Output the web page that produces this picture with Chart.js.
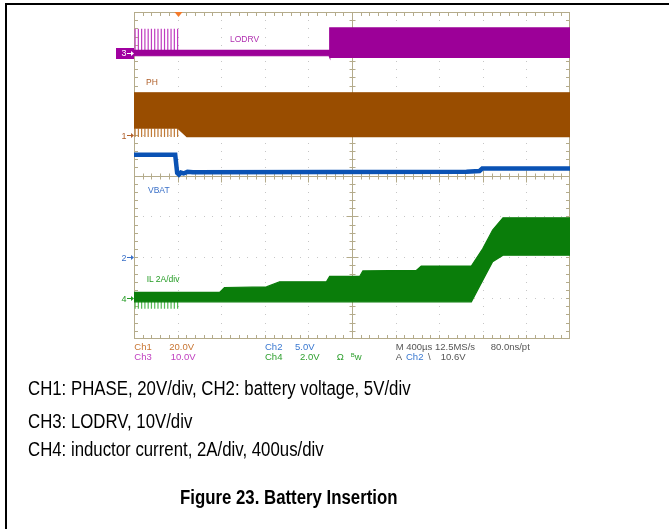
<!DOCTYPE html>
<html>
<head>
<meta charset="utf-8">
<script src="https://cdn.jsdelivr.net/npm/chart.js@4.4.1/dist/chart.umd.min.js"></script>
<style>
  body { margin: 0; background: #fff; }
  #wrap { position: relative; width: 669px; height: 529px; overflow: hidden; font-family: "Liberation Sans", Arial, sans-serif; }
  #frame { position: absolute; left: 5px; top: 3px; width: 700px; height: 600px; border-top: 2px solid #000; border-left: 2px solid #000; }
  canvas { position: absolute; left: 0; top: 0; }
  .t { position: absolute; white-space: nowrap; line-height: 1; }
  .s { font-size: 9.5px; }
  .lab { font-size: 8.5px; }
  .cap { font-size: 20px; color: #000; transform: scaleX(0.84); transform-origin: 0 0; }
</style>
</head>
<body>
<div id="wrap">
  <div id="frame"></div>
  <canvas id="scope" width="669" height="529"></canvas>

  <!-- trace labels -->
  <div class="t lab" style="left:230px;top:34.6px;color:#b030b0">LODRV</div>
  <div class="t lab" style="left:146px;top:78px;color:#b0602a">PH</div>
  <div class="t lab" style="left:148px;top:185.6px;color:#3a70c8">VBAT</div>
  <div class="t lab" style="left:146.7px;top:275px;color:#229a22">IL 2A/div</div>

  <!-- channel reference numbers -->
  <div class="t" style="left:121.5px;top:49px;font-size:9px;color:#fff">3</div>
  <div class="t" style="left:121.5px;top:131.5px;font-size:9px;color:#b0602a">1</div>
  <div class="t" style="left:121.5px;top:253.8px;font-size:9px;color:#3a70c8">2</div>
  <div class="t" style="left:121.5px;top:294.8px;font-size:9px;color:#229a22">4</div>

  <!-- scope status lines -->
  <div class="t s" style="left:134.3px;top:342.3px;color:#c87533">Ch1</div>
  <div class="t s" style="left:169.3px;top:342.3px;color:#c87533">20.0V</div>
  <div class="t s" style="left:134.3px;top:352.3px;color:#c040c0">Ch3</div>
  <div class="t s" style="left:170.7px;top:352.3px;color:#c040c0">10.0V</div>
  <div class="t s" style="left:265px;top:342.3px;color:#3a78d0">Ch2</div>
  <div class="t s" style="left:295px;top:342.3px;color:#3a78d0">5.0V</div>
  <div class="t s" style="left:265px;top:352.3px;color:#30a030">Ch4</div>
  <div class="t s" style="left:300px;top:352.3px;color:#30a030">2.0V</div>
  <div class="t s" style="left:336.7px;top:352.3px;color:#30a030">Ω</div>
  <div class="t s" style="left:350.7px;top:352.3px;color:#30a030"><span style="font-size:6px;vertical-align:3px">B</span>w</div>
  <div class="t s" style="left:395.7px;top:342.3px;color:#555">M 400µs 12.5MS/s</div>
  <div class="t s" style="left:490.7px;top:342.3px;color:#555">80.0ns/pt</div>
  <div class="t s" style="left:395.7px;top:352.3px;color:#555">A</div>
  <div class="t s" style="left:406px;top:352.3px;color:#3a78d0">Ch2</div>
  <div class="t s" style="left:428px;top:352.3px;color:#555">\</div>
  <div class="t s" style="left:440.7px;top:352.3px;color:#555">10.6V</div>

  <!-- caption -->
  <div class="t cap" style="left:28px;top:378.4px">CH1: PHASE, 20V/div, CH2: battery voltage, 5V/div</div>
  <div class="t cap" style="left:28px;top:410.7px">CH3: LODRV, 10V/div</div>
  <div class="t cap" style="left:28px;top:439px">CH4: inductor current, 2A/div, 400us/div</div>
  <div class="t cap" style="left:180px;top:487.4px;font-weight:bold">Figure 23. Battery Insertion</div>
</div>

<script>
// time axis, µs relative to the trigger (400 µs/div, 10 div)
const timeStart = -400;
const timeEnd = 3600;
const usPerDiv = 400;

// channel settings: scale per division and ground-reference position (divisions from centre)
const channels = ['CH1', 'CH2', 'CH3', 'CH4'];
const unitsPerDiv = [20, 5, 10, 2];
const refDiv = [1, -2, 3, -3];
const traceColors = ['#994d00', '#0a52b4', '#9c0098', '#0a7d0a'];
const pulseColors = ['#c07a36', '#0a52b4', '#c03cc0', '#52b852'];

// CH3 LODRV (V): envelope of the switching band
const lodrvTime = [-400, 1390, 1396, 3600];
const lodrvHigh = [0.6, 0.6, 6.1, 6.1];
const lodrvLow = [-0.7, -0.7, -1.1, -1.1];

// short bursts before the battery is inserted (µs)
const pulseTimes = [-390, -360, -330, -300, -270, -240, -210, -180, -150, -120, -90, -60, -30, 0];
const lodrvPulseTop = 5.9;

// CH1 PH (V)
const phTime = [-400, 0, 85, 3600];
const phHigh = [20.5, 20.5, 20.5, 20.5];
const phLow = [3.2, 3.2, -1.0, -1.0];
const phPulseBottom = -1.2;

// CH2 VBAT (V)
const vbatTime = [-400, -22, -4, 12, 30, 55, 90, 140, 2650, 2770, 2795, 3600];
const vbatValue = [12.55, 12.55, 10.3, 10.1, 10.35, 10.25, 10.45, 10.4, 10.45, 10.55, 10.85, 10.85];

// CH4 IL (A)
const ilTime = [-400, 385, 430, 815, 935, 1365, 1395, 1670, 1700, 2190, 2235, 2695, 2800, 2890, 2985, 3600];
const ilHigh = [0.28, 0.28, 0.52, 0.55, 0.8, 0.8, 1.06, 1.06, 1.33, 1.36, 1.57, 1.57, 2.43, 3.33, 3.93, 3.93];
const ilLow = [-0.18, -0.18, -0.18, -0.18, -0.18, -0.18, -0.18, -0.18, -0.18, -0.18, -0.18, -0.18, 0.88, 1.78, 2.1, 2.1];
const ilPulseBottom = -0.52;

const pts = (xs, ys) => xs.map((x, i) => ({ x: x, y: ys[i] }));
const pulses = (times, lo, hi) => {
  const out = [];
  times.forEach(t => out.push({ x: t, y: lo }, { x: t, y: hi }, { x: t, y: null }));
  return out;
};

const line = (label, data, ch, extra) => Object.assign({
  label: label,
  data: data,
  yAxisID: 'y' + (ch + 1),
  borderColor: traceColors[ch],
  backgroundColor: traceColors[ch],
  borderWidth: 1.2,
  pointRadius: 0,
  tension: 0,
  fill: false,
  spanGaps: false
}, extra || {});

const scales = {
  x: { type: 'linear', display: false, min: timeStart, max: timeEnd },
  ydiv: { type: 'linear', display: false, min: -4, max: 4 }
};
channels.forEach((c, i) => {
  scales['y' + (i + 1)] = {
    type: 'linear', display: false,
    min: (-4 - refDiv[i]) * unitsPerDiv[i],
    max: (4 - refDiv[i]) * unitsPerDiv[i]
  };
});

const TAN = '#b4ab8b';

const reticle = {
  id: 'reticle',
  beforeDatasetsDraw(chart) {
    const { ctx, chartArea: a } = chart;
    const xs = chart.scales.x, ys = chart.scales.ydiv;
    const px = v => Math.round(xs.getPixelForValue(v));
    const py = d => Math.round(ys.getPixelForValue(d));
    const nx = (timeEnd - timeStart) / usPerDiv;
    ctx.save();
    // dotted division lines
    ctx.fillStyle = '#c6c6c6';
    for (let i = 1; i < nx; i++) {
      if (i === nx / 2) continue;
      const x = px(timeStart + i * usPerDiv);
      for (let j = 1; j < 40; j++) ctx.fillRect(x, py(-4 + j / 5), 1, 1);
    }
    for (let d = -3; d <= 3; d++) {
      if (d === 0) continue;
      const y = py(d);
      for (let j = 1; j < nx * 5; j++) ctx.fillRect(px(timeStart + j * usPerDiv / 5), y, 1, 1);
    }
    // frame and centre cross
    ctx.strokeStyle = TAN;
    ctx.lineWidth = 1;
    ctx.strokeRect(a.left + 0.5, a.top + 0.5, a.width - 1, a.height - 1);
    const cx = px((timeStart + timeEnd) / 2) + 0.5, cy = py(0) + 0.5;
    ctx.beginPath();
    ctx.moveTo(cx, a.top); ctx.lineTo(cx, a.bottom);
    ctx.moveTo(a.left, cy); ctx.lineTo(a.right, cy);
    // minor ticks on the frame and the centre cross
    for (let j = 1; j < nx * 5; j++) {
      const x = px(timeStart + j * usPerDiv / 5) + 0.5;
      const big = j % 5 === 0 ? 6 : 3;
      ctx.moveTo(x, a.top); ctx.lineTo(x, a.top + 4);
      ctx.moveTo(x, a.bottom); ctx.lineTo(x, a.bottom - 4);
      ctx.moveTo(x, cy - big); ctx.lineTo(x, cy + big);
    }
    for (let j = 1; j < 40; j++) {
      const y = py(-4 + j / 5) + 0.5;
      const big = j % 5 === 0 ? 6 : 3;
      ctx.moveTo(a.left, y); ctx.lineTo(a.left + 4, y);
      ctx.moveTo(a.right, y); ctx.lineTo(a.right - 4, y);
      ctx.moveTo(cx - big, y); ctx.lineTo(cx + big, y);
    }
    ctx.stroke();
    // trigger position marker
    const tx = px(0) + 0.5;
    ctx.fillStyle = '#f37a2a';
    ctx.beginPath();
    ctx.moveTo(tx - 4, a.top); ctx.lineTo(tx + 4, a.top); ctx.lineTo(tx, a.top + 5);
    ctx.closePath(); ctx.fill();
    ctx.restore();
  },
  afterDatasetsDraw(chart) {
    const { ctx, chartArea: a } = chart;
    ctx.save();
    channels.forEach((c, i) => {
      const y = Math.round(chart.scales['y' + (i + 1)].getPixelForValue(0)) + 0.5;
      const col = ['#b0602a', '#3a70c8', '#fff', '#229a22'][i];
      if (i === 2) {
        ctx.fillStyle = '#a000a0';
        ctx.fillRect(a.left - 18, y - 5.5, 18, 11);
      }
      ctx.strokeStyle = col; ctx.fillStyle = col; ctx.lineWidth = 1;
      ctx.beginPath(); ctx.moveTo(a.left - 7, y); ctx.lineTo(a.left - 1, y); ctx.stroke();
      ctx.beginPath(); ctx.moveTo(a.left, y); ctx.lineTo(a.left - 3, y - 2.5); ctx.lineTo(a.left - 3, y + 2.5);
      ctx.closePath(); ctx.fill();
    });
    ctx.restore();
  }
};

new Chart(document.getElementById('scope'), {
  type: 'line',
  data: {
    datasets: [
      line('VBAT', pts(vbatTime, vbatValue), 1, { borderWidth: 4.5 }),
      line('LODRV max', pts(lodrvTime, lodrvHigh), 2, { fill: '+1' }),
      line('LODRV min', pts(lodrvTime, lodrvLow), 2),
      line('LODRV bursts', pulses(pulseTimes, 0, lodrvPulseTop), 2, { borderColor: pulseColors[2], borderWidth: 1.2 }),
      line('PH max', pts(phTime, phHigh), 0, { fill: '+1' }),
      line('PH min', pts(phTime, phLow), 0),
      line('PH bursts', pulses(pulseTimes, phPulseBottom, 3), 0, { borderColor: pulseColors[0], borderWidth: 1.2 }),
      line('IL max', pts(ilTime, ilHigh), 3, { fill: '+1' }),
      line('IL min', pts(ilTime, ilLow), 3),
      line('IL bursts', pulses(pulseTimes, ilPulseBottom, -0.1), 3, { borderColor: pulseColors[3], borderWidth: 1.2 })
    ]
  },
  options: {
    responsive: false,
    animation: false,
    devicePixelRatio: 1,
    layout: { padding: { left: 134, right: 99, top: 12, bottom: 190 } },
    scales: scales,
    plugins: {
      legend: { display: false },
      tooltip: { enabled: false },
      filler: { propagate: false }
    }
  },
  plugins: [reticle]
});
</script>
</body>
</html>
